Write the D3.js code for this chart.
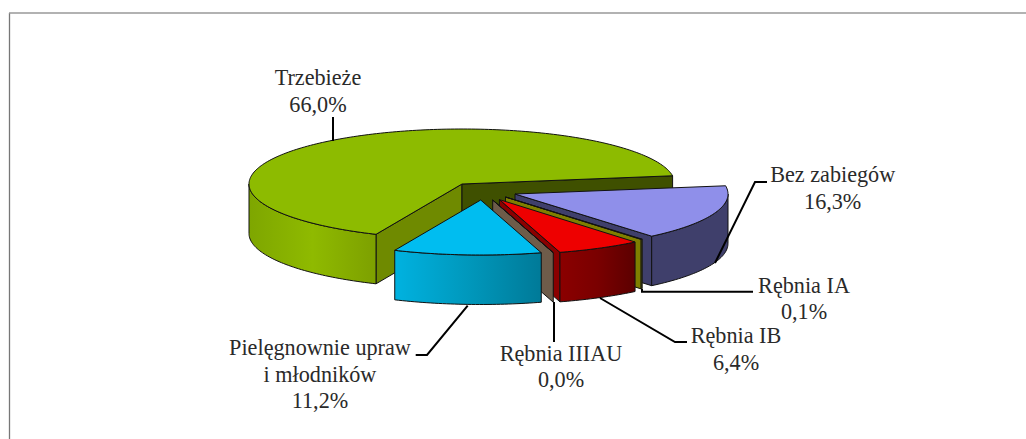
<!DOCTYPE html>
<html><head><meta charset="utf-8">
<script src="https://cdn.jsdelivr.net/npm/d3@7"></script>
<style>html,body{margin:0;padding:0;background:#fff}svg{display:block}</style>
</head><body><svg id="c" width="1026" height="439"></svg>
<script>
// data
const categories = ["Trzebieże","Bez zabiegów","Rębnia IA","Rębnia IB","Rębnia IIIAU","Pielęgnownie upraw i młodników"];
const values = [66.0,16.3,0.1,6.4,0.0,11.2];
const labelLines = [["Trzebieże"],["Bez zabiegów"],["Rębnia IA"],["Rębnia IB"],["Rębnia IIIAU"],["Pielęgnownie upraw","i młodników"]];
const valueText = d => d.toFixed(1).replace(".", ",") + "%";
// style
const topColors = ["#8dbb00","#8f8fea","#7f7f00","#ee0000","#6e5c4a","#00bdf0"];
const wallStartColors = ["#6f8a00","#3f3f6b","#7f7f00","#8b0000","#6e5c4a","#0090b0"];
const wallEndColors = ["#3f5000","#3f3f6b","#7f7f00","#8b0000","#6e5c4a","#0090b0"];
const gradStops = [["#7ea600","#8fba00","#7da000"],["#3f3f6b","#3f3f6b","#3f3f6b"],["#7f7f00","#7f7f00","#7f7f00"],["#8b0000","#7a0000","#5c0000"],["#6e5c4a","#6e5c4a","#6e5c4a"],["#00b2e0","#0098bc","#007a98"]];
// layout
const apexX = [462,515,505.5,499.4,492.7,480.7];
const apexY = [184,194,197,199.6,200,200];
const rx = 213, ry = 55, depth = 49.5;
const startDeg = 203.8;
const labelCx = [318,832.7,804,736,561,320];
const labelBase = [85,182,292.7,343.3,360.7,355];
const lineStep = 26.6;
const leaders = [
  [[333,117],[333,141]],
  [[767,182],[755,182],[715,263]],
  [[642,289],[642,291.7],[753,291.7]],
  [[600,298],[675,342],[687,342]],
  [[554,302],[554,342]],
  [[467.7,305.7],[427,355],[415.7,355]]
];
const svg = d3.select("#c");
const defs = svg.append("defs");
// frame
svg.append("path").attr("d","M9.5,439V13").attr("fill","none").attr("stroke","#777").attr("stroke-width",1.3);
svg.append("path").attr("d","M9,13H1026").attr("fill","none").attr("stroke","#999").attr("stroke-width",1.4);

const sx = d3.scaleLinear().domain([-1,1]).range([-rx,rx]);
const sy = d3.scaleLinear().domain([-1,1]).range([-ry,ry]);
const pie = d3.pie().sort(null).startAngle(startDeg*Math.PI/180).endAngle(startDeg*Math.PI/180+2*Math.PI);
const arcs = pie(values);
const line = d3.line();
const pt = (i,a,dy=0)=>[apexX[i]+sx(Math.sin(a)), apexY[i]-sy(Math.cos(a))+dy];
const norm = a => ((a%(2*Math.PI))+2*Math.PI)%(2*Math.PI);
const rimPts = (i,a0,a1,dy=0)=>{
  const n = Math.max(2,Math.ceil(Math.abs(a1-a0)/0.02));
  return d3.range(n+1).map(k=>pt(i,a0+(a1-a0)*k/n,dy));
};
const g = svg.append("g").attr("stroke","#111").attr("stroke-width",1).attr("stroke-linejoin","round");
arcs.forEach((d,i)=>{
  const a0=d.startAngle,a1=d.endAngle,c=[apexX[i],apexY[i]];
  const s = g.append("g");
  const wall=(a,col)=>s.append("path").attr("d",line([c,pt(i,a),pt(i,a,depth),[c[0],c[1]+depth]])+"Z").attr("fill",col);
  if(norm(a0)>Math.PI) wall(a0,wallStartColors[i]);
  if(norm(a1)<Math.PI) wall(a1,wallEndColors[i]);
  [[Math.PI/2,3*Math.PI/2],[Math.PI/2+2*Math.PI,3*Math.PI/2+2*Math.PI]].forEach(([l,h])=>{
    const b0=Math.max(a0,l),b1=Math.min(a1,h);
    if(b1<=b0) return;
    const top=rimPts(i,b0,b1), bot=rimPts(i,b1,b0,depth);
    const id="grad"+i;
    const xs=top.map(p=>p[0]);
    const gr=defs.append("linearGradient").attr("id",id).attr("gradientUnits","userSpaceOnUse")
      .attr("x1",d3.min(xs)).attr("x2",d3.max(xs)).attr("y1",0).attr("y2",0);
    gradStops[i].forEach((col,k)=>gr.append("stop").attr("offset",k/2).attr("stop-color",col));
    s.append("path").attr("d",line(top.concat(bot))+"Z").attr("fill",`url(#${id})`);
  });
  s.append("path").attr("d",line([c].concat(rimPts(i,a0,a1)))+"Z").attr("fill",topColors[i]);
});
svg.append("g").selectAll("path").data(leaders).join("path")
  .attr("d",d=>line(d)).attr("fill","none").attr("stroke","#000").attr("stroke-width",2);
const t = svg.append("g").attr("font-family","'Liberation Serif','Times New Roman',serif").attr("font-size",22.2).attr("fill","#2a2a2a").attr("text-anchor","middle");
categories.forEach((cat,i)=>{
  labelLines[i].concat([valueText(values[i])]).forEach((s,k)=>{
    t.append("text").attr("x",labelCx[i]).attr("y",labelBase[i]+k*lineStep).text(s);
  });
});
</script></body></html>
